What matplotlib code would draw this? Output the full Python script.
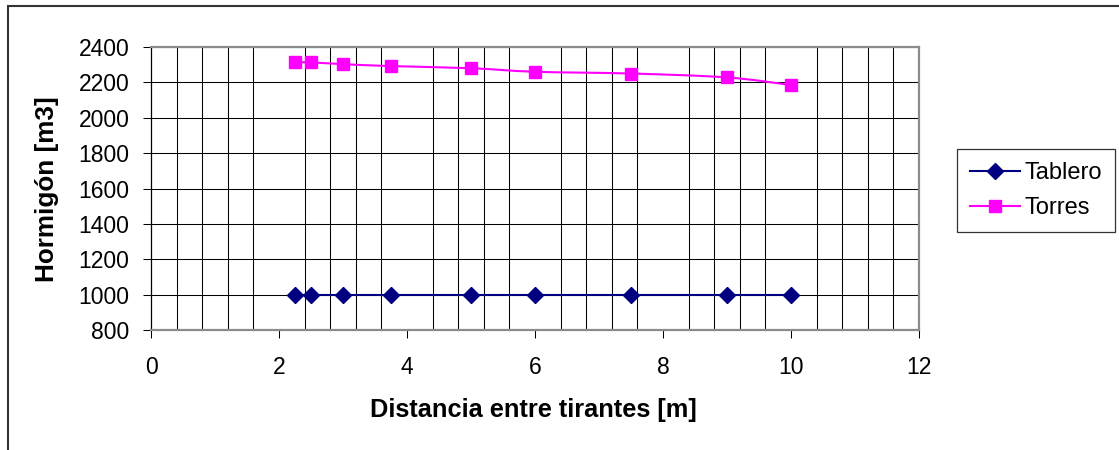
import matplotlib
matplotlib.use("Agg")
import matplotlib.pyplot as plt
import numpy as np
from matplotlib.path import Path
from matplotlib.patches import PathPatch, Rectangle
from matplotlib.lines import Line2D
from matplotlib.ticker import MultipleLocator

plt.rcParams['font.family'] = ['Liberation Sans', 'DejaVu Sans']

# distancia entre tirantes [m]
distancia = [2.25, 2.5, 3.0, 3.75, 5.0, 6.0, 7.5, 9.0, 10.0]
# volumen de hormigon [m3]
tablero = [1000, 1000, 1000, 1000, 1000, 1000, 1000, 1000, 1000]
torres = [2314, 2313, 2303, 2292, 2280, 2260, 2250, 2228, 2185]

series_names = ['Tablero', 'Torres']
xlabel = 'Distancia entre tirantes [m]'
ylabel = 'Hormigón [m3]'

NAVY = '#000080'
MAGENTA = '#FF00FF'


def smooth_path(x, y):
    # bezier through the points, same kind of smoothing as a spreadsheet line
    pts = np.column_stack([x, y]).astype(float)
    n = len(pts)
    verts = [pts[0]]
    codes = [Path.MOVETO]
    for i in range(n - 1):
        p0 = pts[i - 1] if i > 0 else pts[i]
        p1 = pts[i]
        p2 = pts[i + 1]
        p3 = pts[i + 2] if i + 2 < n else pts[i + 1]
        c1 = p1 + (p2 - p0) / 6.0
        c2 = p2 - (p3 - p1) / 6.0
        verts += [c1, c2, p2]
        codes += [Path.CURVE4] * 3
    return Path(verts, codes)


W, H = 1119, 450
fig = plt.figure(figsize=(W / 100, H / 100), dpi=100)

# plot area in pixels
left, right, top, bottom = 151, 919, 47, 330
ax = fig.add_axes([left / W, 1 - bottom / H, (right - left) / W, (bottom - top) / H])

ax.set_xlim(0, 12)
ax.set_ylim(800, 2400)
ax.xaxis.set_major_locator(MultipleLocator(2))
ax.xaxis.set_minor_locator(MultipleLocator(0.4))
ax.yaxis.set_major_locator(MultipleLocator(200))

ax.grid(True, which='minor', axis='x', color='black', linewidth=0.75)
ax.grid(True, which='major', axis='y', color='black', linewidth=0.75)
ax.set_axisbelow(True)

ax.tick_params(axis='both', which='major', direction='out', length=5.5, width=0.75,
               color='black', labelsize=16.5)
ax.tick_params(axis='x', which='major', pad=13)
ax.tick_params(axis='y', which='major', pad=10)
ax.tick_params(axis='x', which='minor', length=0)

for side in ['top', 'right', 'bottom']:
    ax.spines[side].set_color('#8c8c8c')
    ax.spines[side].set_linewidth(1.6)
ax.spines['left'].set_color('black')
ax.spines['left'].set_linewidth(0.9)

# Tablero: straight line with diamonds
ax.plot(distancia, tablero, color=NAVY, linewidth=1.5, marker='D', markersize=8,
        markerfacecolor=NAVY, markeredgecolor=NAVY, zorder=3)

# Torres: smoothed line with squares
ax.add_patch(PathPatch(smooth_path(distancia, torres), facecolor='none',
                       edgecolor=MAGENTA, linewidth=1.5, zorder=3))
ax.plot(distancia, torres, linestyle='none', marker='s', markersize=8,
        markerfacecolor=MAGENTA, markeredgecolor=MAGENTA, zorder=4)

fig.text(533 / W, 1 - 410 / H, xlabel, ha='center', va='center',
         fontsize=18.3, fontweight='bold')
fig.text(47 / W, 1 - 189 / H, ylabel, ha='center', va='center', rotation=90,
         fontsize=18.8, fontweight='bold')

handles = [
    Line2D([], [], color=NAVY, linewidth=1.5, marker='D', markersize=8),
    Line2D([], [], color=MAGENTA, linewidth=1.5, marker='s', markersize=8),
]
leg = fig.legend(handles, series_names, loc='upper left',
                 bbox_to_anchor=(957 / W, 1 - 149 / H), borderaxespad=0,
                 fontsize=17, frameon=True, fancybox=False, handlelength=2.1,
                 handletextpad=0.2, labelspacing=0.55, borderpad=0.55)
leg.get_frame().set_edgecolor('black')
leg.get_frame().set_linewidth(0.9)

# outer chart border (runs off the right and bottom edges)
fig.patches.append(Rectangle((8 / W, -0.05), 1.2, 1 - 6 / H + 0.05,
                             transform=fig.transFigure, fill=False,
                             edgecolor='#333333', linewidth=1.5))

fig.savefig('out.png', dpi=100)
